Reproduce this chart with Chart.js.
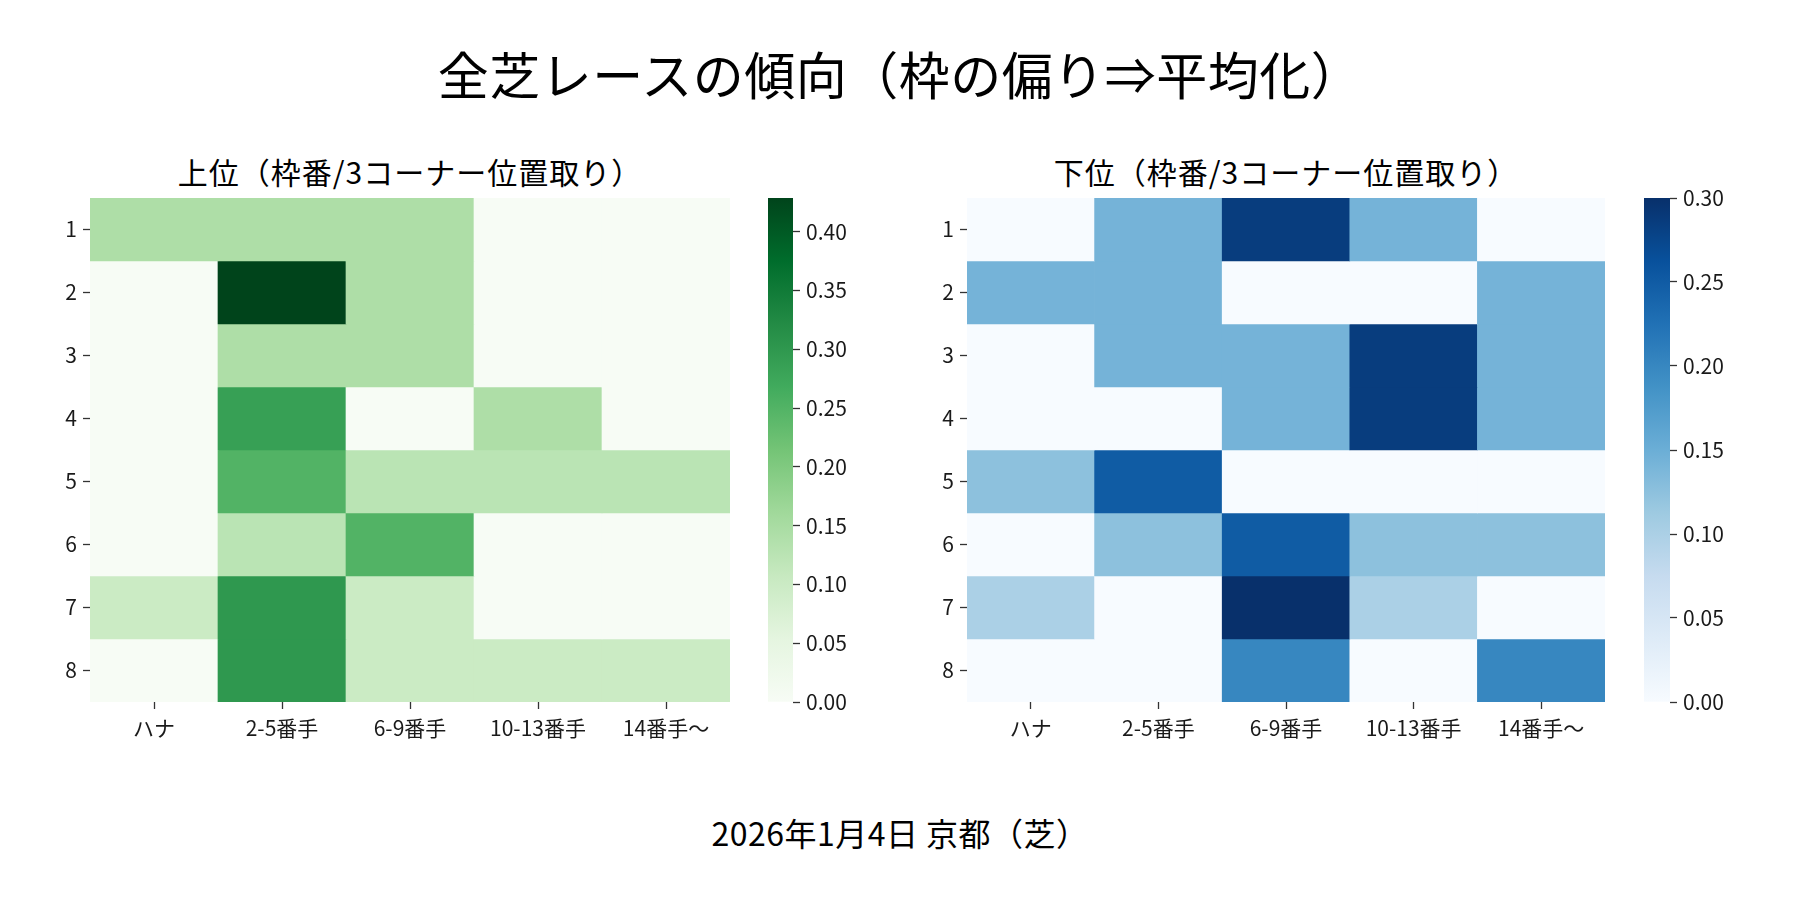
<!DOCTYPE html>
<html lang="ja">
<head>
<meta charset="utf-8">
<title>全芝レースの傾向</title>
<script src="https://cdn.jsdelivr.net/npm/chart.js@4.4.1/dist/chart.umd.min.js"></script>
<style>
    html, body {
        margin: 0;
        padding: 0;
        background: #ffffff;
    }
    #page {
        position: relative;
        width: 1800px;
        height: 900px;
        overflow: hidden;
        font-family: "Noto Sans CJK JP", "Noto Sans", sans-serif;
        color: #000;
    }
    .txt {
        position: absolute;
        white-space: nowrap;
        text-align: center;
    }
    canvas {
        position: absolute;
    }
</style>
</head>
<body>
<div id="page">
    <div class="txt" id="mainTitle" style="left:0; width:1800px; top:46px; font-size:51px; line-height:54px; letter-spacing:0.5px;">全芝レースの傾向（枠の偏り⇒平均化）</div>
    <div class="txt" style="left:90px; width:640px; top:154px; font-size:30px; line-height:34px; letter-spacing:1px;">上位（枠番/3コーナー位置取り）</div>
    <div class="txt" style="left:967px; width:638px; top:154px; font-size:30px; line-height:34px; letter-spacing:1px;">下位（枠番/3コーナー位置取り）</div>
    <div class="txt" style="left:0; width:1800px; top:814px; font-size:32px; line-height:36px; letter-spacing:0.5px;">2026年1月4日 京都（芝）</div>

    <canvas id="upperChart" width="710" height="574" style="left:30px; top:178px;"></canvas>
    <canvas id="upperBar" width="95" height="544" style="left:768px; top:178px;"></canvas>
    <canvas id="lowerChart" width="708" height="574" style="left:907px; top:178px;"></canvas>
    <canvas id="lowerBar" width="96" height="544" style="left:1644px; top:178px;"></canvas>
</div>

<script>
// Achsen
const positions = ['ハナ', '2-5番手', '6-9番手', '10-13番手', '14番手〜'];
const frames = ['1', '2', '3', '4', '5', '6', '7', '8'];

// 上位 (Anteil je Feld, Zeile = 枠番)
const upperRow1 = [0.1429, 0.1429, 0.1429, 0.0, 0.0];
const upperRow2 = [0.0, 0.4286, 0.1429, 0.0, 0.0];
const upperRow3 = [0.0, 0.1429, 0.1429, 0.0, 0.0];
const upperRow4 = [0.0, 0.2857, 0.0, 0.1429, 0.0];
const upperRow5 = [0.0, 0.25, 0.125, 0.125, 0.125];
const upperRow6 = [0.0, 0.125, 0.25, 0.0, 0.0];
const upperRow7 = [0.1, 0.3, 0.1, 0.0, 0.0];
const upperRow8 = [0.0, 0.3, 0.1, 0.1, 0.1];

// 下位
const lowerRow1 = [0.0, 0.1429, 0.2857, 0.1429, 0.0];
const lowerRow2 = [0.1429, 0.1429, 0.0, 0.0, 0.1429];
const lowerRow3 = [0.0, 0.1429, 0.1429, 0.2857, 0.1429];
const lowerRow4 = [0.0, 0.0, 0.1429, 0.2857, 0.1429];
const lowerRow5 = [0.125, 0.25, 0.0, 0.0, 0.0];
const lowerRow6 = [0.0, 0.125, 0.25, 0.125, 0.125];
const lowerRow7 = [0.1, 0.0, 0.3, 0.1, 0.0];
const lowerRow8 = [0.0, 0.0, 0.2, 0.0, 0.2];

// Farbskalen-Beschriftung
const upperBarTicks = [0.00, 0.05, 0.10, 0.15, 0.20, 0.25, 0.30, 0.35, 0.40];
const lowerBarTicks = [0.00, 0.05, 0.10, 0.15, 0.20, 0.25, 0.30];

const upperValues = [upperRow1, upperRow2, upperRow3, upperRow4, upperRow5, upperRow6, upperRow7, upperRow8];
const lowerValues = [lowerRow1, lowerRow2, lowerRow3, lowerRow4, lowerRow5, lowerRow6, lowerRow7, lowerRow8];

// Colormaps (matplotlib Greens / Blues)
const GREENS = ['#f7fcf5', '#e5f5e0', '#c7e9c0', '#a1d99b', '#74c476', '#41ab5d', '#238b45', '#006d2c', '#00441b'];
const BLUES = ['#f7fbff', '#deebf7', '#c6dbef', '#9ecae1', '#6baed6', '#4292c6', '#2171b5', '#08519c', '#08306b'];

const FONT = '"Noto Sans CJK JP", "Noto Sans", sans-serif';
const TEXT_COLOR = '#1a1a1a';
const TICK_COLOR = '#333333';

function hexToRgb(hex) {
    const n = parseInt(hex.slice(1), 16);
    return [(n >> 16) & 255, (n >> 8) & 255, n & 255];
}

function colorAt(stops, t) {
    t = Math.min(Math.max(t, 0), 1);
    const pos = t * (stops.length - 1);
    const i = Math.min(Math.floor(pos), stops.length - 2);
    const f = pos - i;
    const a = hexToRgb(stops[i]);
    const b = hexToRgb(stops[i + 1]);
    const c = a.map((v, k) => Math.round(v + (b[k] - v) * f));
    return `rgb(${c[0]}, ${c[1]}, ${c[2]})`;
}

function maxOf(values) {
    return Math.max(...values.map(row => Math.max(...row)));
}

function tickGrid() {
    return {
        drawOnChartArea: false,
        drawTicks: true,
        tickLength: 7,
        tickWidth: 1.3,
        tickColor: TICK_COLOR,
        offset: false
    };
}

// Heatmap als schwebende Balken: ein Datensatz pro Zeile (枠番)
function initHeatmap(id, values, stops) {
    const ctx = document.getElementById(id);
    if (!ctx) return;
    const vmax = maxOf(values);

    const datasets = frames.map((frame, r) => ({
        label: frame,
        data: positions.map(() => [r, r + 1]),
        backgroundColor: values[r].map(v => colorAt(stops, v / vmax)),
        borderWidth: 0,
        barPercentage: 1,
        categoryPercentage: 1
    }));

    return new Chart(ctx, {
        type: 'bar',
        data: { labels: positions, datasets: datasets },
        options: {
            responsive: false,
            animation: false,
            devicePixelRatio: 1,
            layout: { padding: { top: 20, bottom: 0, left: 0, right: 10 } },
            plugins: { legend: { display: false }, tooltip: { enabled: false } },
            scales: {
                x: {
                    stacked: true,
                    offset: true,
                    grid: tickGrid(),
                    border: { display: false },
                    ticks: { font: { family: FONT, size: 21 }, color: TEXT_COLOR, padding: 6, maxRotation: 0, autoSkip: false },
                    afterFit: s => { s.height = 50; }
                },
                y: {
                    min: 0,
                    max: frames.length,
                    reverse: true,
                    grid: tickGrid(),
                    border: { display: false },
                    afterBuildTicks: s => { s.ticks = frames.map((f, i) => ({ value: i + 0.5 })); },
                    ticks: {
                        font: { family: FONT, size: 21 },
                        color: TEXT_COLOR,
                        padding: 6,
                        autoSkip: false,
                        callback: (v, i) => frames[i]
                    },
                    afterFit: s => { s.width = 60; }
                }
            }
        }
    });
}

// Farbbalken mit Verlauf
function initColorbar(id, values, stops, tickValues) {
    const ctx = document.getElementById(id);
    if (!ctx) return;
    const vmax = maxOf(values);

    return new Chart(ctx, {
        type: 'bar',
        data: {
            labels: [''],
            datasets: [{
                data: [[0, vmax]],
                borderWidth: 0,
                barPercentage: 1,
                categoryPercentage: 1,
                backgroundColor: c => {
                    const area = c.chart.chartArea;
                    if (!area) return stops[0];
                    const g = c.chart.ctx.createLinearGradient(0, area.bottom, 0, area.top);
                    stops.forEach((s, i) => g.addColorStop(i / (stops.length - 1), s));
                    return g;
                }
            }]
        },
        options: {
            responsive: false,
            animation: false,
            devicePixelRatio: 1,
            layout: { padding: { top: 20, bottom: 20, left: 0, right: 0 } },
            plugins: { legend: { display: false }, tooltip: { enabled: false } },
            scales: {
                x: { display: false },
                y: {
                    position: 'right',
                    min: 0,
                    max: vmax,
                    grid: tickGrid(),
                    border: { display: false },
                    afterBuildTicks: s => { s.ticks = tickValues.map(v => ({ value: v })); },
                    ticks: {
                        font: { family: FONT, size: 21 },
                        color: TEXT_COLOR,
                        padding: 6,
                        autoSkip: false,
                        callback: v => v.toFixed(2)
                    },
                    afterFit: s => { s.width = 70; }
                }
            }
        }
    });
}

initHeatmap('upperChart', upperValues, GREENS);
initColorbar('upperBar', upperValues, GREENS, upperBarTicks);
initHeatmap('lowerChart', lowerValues, BLUES);
initColorbar('lowerBar', lowerValues, BLUES, lowerBarTicks);
</script>
</body>
</html>
